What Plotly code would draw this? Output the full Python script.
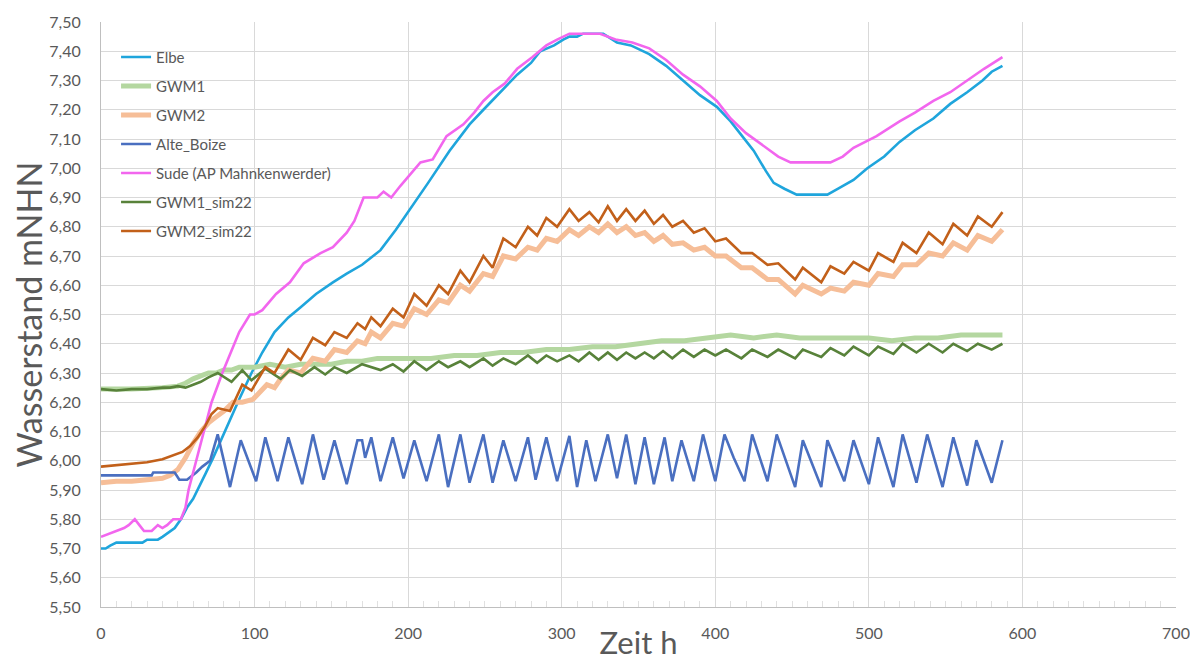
import plotly.graph_objects as go

# ---------------- data ----------------
ELBE_X = [0, 3, 6, 10, 15, 20, 27, 30, 37, 40, 44, 48, 52, 56, 60, 63, 68, 73, 78, 84,
          90, 98, 105, 113, 122, 130, 140, 151, 160, 170, 182, 192, 200, 213, 227, 240, 249, 260, 271, 280,
          286, 295, 301, 305, 310, 314, 320, 327, 336, 345, 357, 368, 379, 390, 401, 410, 416, 425, 433, 438,
          445, 453, 463, 473, 480, 490, 499, 510, 520, 530, 542, 553, 564, 574, 580, 587]
ELBE_Y = [5.70, 5.70, 5.71, 5.72, 5.72, 5.72, 5.72, 5.73, 5.73, 5.74, 5.755, 5.77, 5.80, 5.84, 5.87, 5.90, 5.955, 6.01, 6.07, 6.14,
          6.21, 6.30, 6.37, 6.44, 6.49, 6.525, 6.57, 6.61, 6.64, 6.67, 6.72, 6.79, 6.85, 6.95, 7.06, 7.15, 7.20, 7.26, 7.32, 7.36,
          7.40, 7.42, 7.44, 7.45, 7.45, 7.46, 7.46, 7.46, 7.43, 7.42, 7.39, 7.35, 7.30, 7.25, 7.21, 7.16, 7.12, 7.06, 6.99, 6.95,
          6.93, 6.91, 6.91, 6.91, 6.93, 6.96, 7.00, 7.04, 7.09, 7.13, 7.17, 7.22, 7.26, 7.30, 7.33, 7.35]

SUDE_X = [0, 5, 10, 15, 18, 22, 25, 28, 33, 37, 40, 43, 47, 52, 55, 57, 62, 67, 72, 79,
          85, 90, 97, 100, 105, 114, 123, 132, 143, 151, 160, 165, 171, 180, 184, 189, 195, 203, 208, 216,
          225, 236, 243, 249, 255, 263, 271, 281, 290, 297, 305, 315, 325, 335, 346, 357, 368, 379, 390, 401,
          410, 420, 433, 441, 449, 460, 475, 483, 490, 505, 520, 530, 542, 553, 564, 575, 587]
SUDE_Y = [5.74, 5.75, 5.76, 5.77, 5.78, 5.80, 5.78, 5.76, 5.76, 5.78, 5.77, 5.78, 5.80, 5.80, 5.84, 5.90, 6.00, 6.10, 6.20, 6.30,
          6.38, 6.44, 6.50, 6.50, 6.515, 6.57, 6.61, 6.675, 6.71, 6.73, 6.78, 6.82, 6.90, 6.90, 6.92, 6.90, 6.94, 6.99, 7.02, 7.03,
          7.11, 7.15, 7.19, 7.23, 7.26, 7.29, 7.34, 7.38, 7.42, 7.44, 7.46, 7.46, 7.46, 7.44, 7.43, 7.41, 7.37, 7.32, 7.28, 7.23,
          7.17, 7.12, 7.07, 7.04, 7.02, 7.02, 7.02, 7.04, 7.07, 7.11, 7.16, 7.19, 7.23, 7.26, 7.30, 7.34, 7.38]

BOIZE_X = [0, 33, 34, 48, 51, 56, 62, 66, 71, 76, 84, 91, 101, 107, 115, 122, 131, 138, 145, 152,
           160, 167, 170, 172, 176, 182, 190, 197, 204, 212, 220, 226, 234, 240, 249, 255, 262, 270, 278, 283,
           290, 297, 305, 310, 316, 322, 330, 336, 342, 348, 354, 360, 367, 372, 378, 386, 392, 400, 406, 412,
           419, 424, 429, 434, 440, 452, 457, 469, 473, 484, 490, 500, 506, 516, 522, 531, 538, 548, 555, 564,
           570, 580, 587]
BOIZE_Y = [5.95, 5.95, 5.96, 5.96, 5.935, 5.935, 5.96, 5.98, 6.00, 6.09, 5.91, 6.07, 5.93, 6.08, 5.93, 6.08, 5.92, 6.09, 5.935, 6.07,
           5.92, 6.07, 6.07, 6.01, 6.08, 5.93, 6.08, 5.94, 6.07, 5.93, 6.09, 5.91, 6.09, 5.925, 6.09, 5.925, 6.07, 5.93, 6.08, 5.935,
           6.08, 5.93, 6.085, 5.91, 6.07, 5.93, 6.09, 5.94, 6.09, 5.92, 6.08, 5.92, 6.08, 5.93, 6.07, 5.93, 6.09, 5.93, 6.09, 6.01,
           5.93, 6.09, 6.01, 5.93, 6.09, 5.91, 6.07, 5.91, 6.07, 5.93, 6.07, 5.92, 6.08, 5.91, 6.09, 5.925, 6.09, 5.91, 6.08, 5.915,
           6.07, 5.925, 6.07]

SIM2_X = [0, 10, 20, 30, 40, 48, 53, 58, 63, 68, 72, 76, 84, 92, 98, 107, 113, 122, 130, 138,
          146, 152, 160, 167, 172, 176, 182, 190, 197, 204, 212, 220, 226, 234, 240, 249, 255, 262, 270, 278,
          284, 290, 297, 305, 311, 318, 324, 330, 336, 342, 348, 354, 360, 366, 372, 379, 386, 393, 400, 407,
          417, 424, 434, 441, 452, 457, 469, 475, 484, 490, 500, 506, 516, 522, 531, 539, 548, 555, 564, 571,
          580, 587]
SIM2_Y = [5.98, 5.985, 5.99, 5.995, 6.005, 6.02, 6.03, 6.05, 6.08, 6.12, 6.16, 6.18, 6.17, 6.26, 6.24, 6.32, 6.30, 6.38, 6.345, 6.42,
          6.395, 6.44, 6.42, 6.47, 6.45, 6.49, 6.46, 6.52, 6.49, 6.57, 6.53, 6.60, 6.57, 6.65, 6.61, 6.70, 6.66, 6.76, 6.73, 6.80,
          6.77, 6.83, 6.80, 6.86, 6.82, 6.85, 6.815, 6.87, 6.82, 6.86, 6.82, 6.855, 6.81, 6.84, 6.80, 6.82, 6.78, 6.795, 6.75, 6.76,
          6.71, 6.71, 6.67, 6.675, 6.62, 6.66, 6.61, 6.665, 6.64, 6.68, 6.65, 6.71, 6.68, 6.745, 6.71, 6.78, 6.74, 6.81, 6.77, 6.835,
          6.80, 6.85]

GWM2_X = [0, 10, 20, 30, 40, 45, 50, 55, 60, 65, 70, 75, 80, 86, 92, 99, 104, 108, 113, 117,
          122, 130, 138, 146, 152, 160, 167, 172, 176, 182, 190, 197, 204, 212, 220, 226, 234, 240, 249, 255,
          262, 270, 278, 284, 290, 297, 305, 311, 318, 324, 330, 336, 342, 348, 354, 360, 366, 372, 379, 386,
          393, 400, 407, 417, 424, 434, 441, 452, 457, 469, 475, 484, 490, 500, 506, 516, 522, 531, 539, 548,
          555, 564, 571, 580, 587]
GWM2_Y = [5.925, 5.93, 5.93, 5.935, 5.94, 5.95, 5.97, 6.01, 6.06, 6.10, 6.13, 6.15, 6.17, 6.20, 6.20, 6.21, 6.24, 6.26, 6.25, 6.28,
          6.31, 6.30, 6.35, 6.34, 6.38, 6.37, 6.41, 6.40, 6.44, 6.42, 6.47, 6.46, 6.52, 6.50, 6.55, 6.54, 6.60, 6.58, 6.64, 6.63,
          6.70, 6.69, 6.73, 6.72, 6.76, 6.75, 6.79, 6.77, 6.80, 6.78, 6.81, 6.78, 6.80, 6.77, 6.78, 6.75, 6.77, 6.74, 6.745, 6.72,
          6.73, 6.70, 6.70, 6.66, 6.66, 6.62, 6.62, 6.57, 6.60, 6.57, 6.59, 6.58, 6.61, 6.60, 6.64, 6.63, 6.67, 6.67, 6.71, 6.70,
          6.745, 6.72, 6.77, 6.75, 6.79]

SIM1_X = [0, 10, 20, 30, 40, 45, 50, 55, 60, 65, 70, 76, 85, 92, 98, 107, 117, 123, 131, 139,
          146, 152, 160, 170, 182, 190, 197, 204, 212, 220, 226, 234, 240, 249, 255, 262, 270, 278, 284, 290,
          297, 305, 311, 318, 324, 330, 336, 342, 348, 354, 360, 366, 372, 379, 386, 393, 400, 407, 417, 424,
          434, 441, 452, 457, 469, 475, 484, 490, 500, 506, 516, 522, 531, 539, 548, 555, 564, 571, 580, 587]
SIM1_Y = [6.245, 6.24, 6.245, 6.245, 6.25, 6.25, 6.255, 6.25, 6.26, 6.27, 6.285, 6.30, 6.27, 6.31, 6.275, 6.315, 6.28, 6.31, 6.29, 6.32,
          6.295, 6.32, 6.30, 6.33, 6.31, 6.33, 6.305, 6.34, 6.31, 6.34, 6.32, 6.34, 6.32, 6.35, 6.325, 6.35, 6.33, 6.36, 6.335, 6.36,
          6.34, 6.36, 6.34, 6.37, 6.345, 6.37, 6.345, 6.37, 6.35, 6.37, 6.35, 6.375, 6.35, 6.38, 6.355, 6.38, 6.36, 6.38, 6.35, 6.38,
          6.355, 6.38, 6.35, 6.38, 6.355, 6.385, 6.36, 6.39, 6.36, 6.39, 6.365, 6.40, 6.37, 6.40, 6.37, 6.40, 6.375, 6.40, 6.38, 6.40]

GWM1_X = [0, 20, 40, 50, 55, 60, 65, 70, 75, 80, 85, 90, 95, 100, 110, 120, 130, 140, 150, 160,
          170, 180, 190, 200, 215, 230, 245, 260, 275, 290, 305, 320, 335, 350, 365, 380, 395, 410, 425, 440,
          455, 470, 485, 500, 515, 530, 545, 560, 575, 587]
GWM1_Y = [6.245, 6.245, 6.25, 6.255, 6.265, 6.28, 6.29, 6.30, 6.30, 6.31, 6.31, 6.32, 6.32, 6.32, 6.33, 6.32, 6.33, 6.33, 6.33, 6.34,
          6.34, 6.35, 6.35, 6.35, 6.35, 6.36, 6.36, 6.37, 6.37, 6.38, 6.38, 6.39, 6.39, 6.40, 6.41, 6.41, 6.42, 6.43, 6.42, 6.43,
          6.42, 6.42, 6.42, 6.42, 6.41, 6.42, 6.42, 6.43, 6.43, 6.43]

for _n, _a, _b in [("Elbe", ELBE_X, ELBE_Y), ("Sude", SUDE_X, SUDE_Y), ("Boize", BOIZE_X, BOIZE_Y),
                   ("sim2", SIM2_X, SIM2_Y), ("gwm2", GWM2_X, GWM2_Y), ("sim1", SIM1_X, SIM1_Y),
                   ("gwm1", GWM1_X, GWM1_Y)]:
    if len(_a) != len(_b):
        raise ValueError(f"{_n}: {len(_a)} vs {len(_b)}")

# ---------------- figure ----------------
GREY = "#595959"
FONT = "Lato"

series = [
    ("Elbe", ELBE_X, ELBE_Y, "#1FA5DC", 2.6),
    ("GWM1", GWM1_X, GWM1_Y, "#B4D7A0", 5),
    ("GWM2", GWM2_X, GWM2_Y, "#F6BE98", 5),
    ("Alte_Boize", BOIZE_X, BOIZE_Y, "#4A6FC0", 2.6),
    ("Sude (AP Mahnkenwerder)", SUDE_X, SUDE_Y, "#F266EE", 2.6),
    ("GWM1_sim22", SIM1_X, SIM1_Y, "#58823A", 2.6),
    ("GWM2_sim22", SIM2_X, SIM2_Y, "#C2601A", 2.6),
]

fig = go.Figure()
for name, xs, ys, col, w in series:
    fig.add_trace(go.Scatter(x=xs, y=ys, mode="lines", name=name, legendgroup=name,
                             line=dict(color=col, width=w)))

# the page body adds an 8 px margin, so the figure is sized to fit the 1198x669 window
fig.update_layout(
    width=1182, height=653,
    margin=dict(l=93, r=14, t=14, b=54),
    paper_bgcolor="white", plot_bgcolor="white",
    separators=",.",
    font=dict(family=FONT, color=GREY, size=16),
    showlegend=True,
    legend=dict(x=0.014, y=0.968, xanchor="left", yanchor="top",
                bgcolor="rgba(0,0,0,0)", font=dict(size=15, color=GREY, family=FONT),
                itemwidth=30, tracegroupgap=6.5, traceorder="grouped"),
    xaxis=dict(range=[0, 700], dtick=100, tick0=0, showgrid=True, gridcolor="#D9D9D9", gridwidth=1,
               showline=True, linecolor="#BFBFBF", linewidth=1, zeroline=False, automargin=False,
               ticks="", ticklabelstandoff=12, tickfont=dict(size=16, color=GREY),
               minor=dict(dtick=10, ticks="inside", ticklen=6, tickcolor="#E0E0E0", showgrid=False),
               title=dict(text="Zeit h", font=dict(size=31, color=GREY), standoff=0)),
    yaxis=dict(range=[5.5, 7.5], dtick=0.1, tick0=5.5, tickformat=".2f", showgrid=True,
               gridcolor="#D9D9D9", gridwidth=1, showline=True, linecolor="#BFBFBF", linewidth=1,
               zeroline=False, automargin=False, ticks="", ticklabelstandoff=16,
               tickfont=dict(size=16, color=GREY),
               title=dict(text="Wasserstand mNHN", font=dict(size=34, color=GREY), standoff=4)),
)

fig.write_html("out.html")
